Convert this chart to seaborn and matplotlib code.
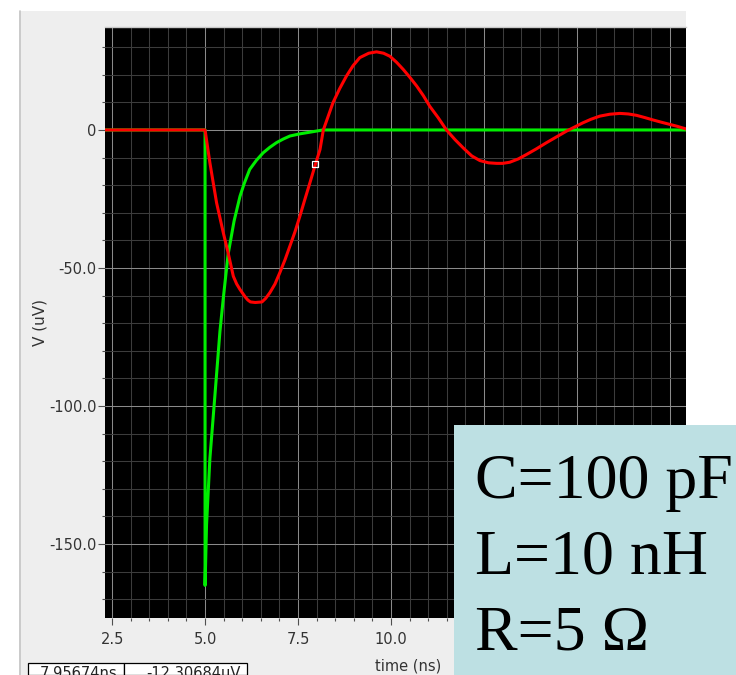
import matplotlib
matplotlib.use("Agg")
import matplotlib.pyplot as plt
from matplotlib.patches import Rectangle
from matplotlib.lines import Line2D
import numpy as np
import pandas as pd
import seaborn as sns

# ---- data ----
t_green = [2.3, 5.0, 5.0, 5.04, 5.13, 5.26, 5.40, 5.49, 5.62, 5.78, 5.94, 6.05,
           6.20, 6.38, 6.56, 6.74, 6.92, 7.10, 7.28, 7.55, 7.82, 8.17, 17.95]
v_green = [0, 0, -165, -143, -119, -97, -73, -61, -45, -33, -24, -19.5,
           -14.3, -11.0, -8.3, -6.3, -4.6, -3.3, -2.2, -1.4, -0.8, 0, 0]

t_red = [2.3, 5.0, 5.13, 5.31, 5.49, 5.62, 5.76, 5.85, 5.94, 6.08, 6.15, 6.22, 6.35,
         6.53, 6.63, 6.74, 6.88, 7.01, 7.15, 7.28, 7.42, 7.55, 7.68, 7.82, 7.95,
         8.09, 8.18, 8.44, 8.62, 8.80, 8.98, 9.16, 9.40, 9.61, 9.80, 9.97, 10.15,
         10.33, 10.51, 10.69, 10.87, 11.04, 11.27, 11.49, 11.72, 11.94, 12.17,
         12.39, 12.62, 12.84, 13.00, 13.19, 13.42, 13.64, 13.90, 14.18, 14.45,
         14.72, 14.94, 15.16, 15.38, 15.61, 15.88, 16.15, 16.38, 16.60, 16.82,
         17.05, 17.27, 17.50, 17.70, 17.95]
v_red = [0, 0, -11.9, -26.4, -37.2, -44.5, -53.0, -55.8, -57.8, -60.5, -61.6, -62.3, -62.5,
         -62.3, -61.0, -59.0, -55.8, -51.7, -47.0, -42.1, -36.8, -31.2, -25.3, -19.1, -13.2,
         -7.1, 0, 9.9, 15.0, 19.5, 23.3, 26.2, 27.8, 28.3, 27.8, 26.7, 24.5,
         21.9, 19.0, 15.9, 12.4, 8.6, 4.4, 0, -3.5, -6.5, -9.4,
         -11.1, -11.9, -12.1, -12.1, -11.7, -10.5, -8.9, -6.9, -4.6, -2.5,
         -0.4, 1.1, 2.6, 3.9, 5.0, 5.7, 6.0, 5.8, 5.3, 4.5,
         3.6, 2.8, 2.0, 1.3, 0.3]

cursor_t = [7.95674]
cursor_v = [-12.30684]

x_major = [2.5, 5.0, 7.5, 10.0, 12.5, 15.0, 17.5]
x_labels = ["2.5", "5.0", "7.5", "10.0", "", "", ""]   # later labels hidden behind the box
y_major = [-150, -100, -50, 0]
y_labels = ["-150.0", "-100.0", "-50.0", "0"]

param_lines = ["C=100 pF", "L=10 nH", "R=5 \u03a9"]
readouts = ["7.95674ns", "-12.30684uV"]

# ---- figure ----
sns.set_style("dark")
plt.rcParams["font.family"] = ["DejaVu Sans"]

W, H = 736, 675
fig = plt.figure(figsize=(W / 100, H / 100), dpi=100)
fig.patch.set_facecolor("white")

def fx(px):
    return px / W

def fy(py):
    return 1 - py / H

# grey application panel
fig.add_artist(Rectangle((fx(19), 0), fx(686) - fx(19), fy(11), transform=fig.transFigure,
                         facecolor="#eeeeee", edgecolor="none", zorder=-10))
fig.add_artist(Line2D([fx(19.5), fx(19.5)], [0, fy(11)], transform=fig.transFigure,
                      color="#c4c4c4", lw=1.2, zorder=-9))

ax = fig.add_axes([fx(105), fy(618), fx(686) - fx(105), fy(27) - fy(618)])
ax.set_facecolor("black")

df_g = pd.DataFrame({"t": t_green, "v": v_green})
df_r = pd.DataFrame({"t": t_red, "v": v_red})
sns.lineplot(data=df_g, x="t", y="v", ax=ax, color="#00ee00", lw=2.2,
             estimator=None, sort=False, zorder=3)
sns.lineplot(data=df_r, x="t", y="v", ax=ax, color="#ff0000", lw=2.2,
             estimator=None, sort=False, zorder=4)
sns.scatterplot(x=cursor_t, y=cursor_v, ax=ax, marker="s", s=22,
                facecolor="none", edgecolor="white", linewidth=0.9, zorder=5)

ax.set_xlim(2.31, 17.93)
ax.set_ylim(-176.8, 37.3)

ax.set_xticks(x_major)
ax.set_xticklabels(x_labels)
ax.set_xticks(np.arange(2.5, 18.0, 0.5), minor=True)
ax.set_yticks(y_major)
ax.set_yticklabels(y_labels)
ax.set_yticks(np.arange(-170, 40, 10), minor=True)

ax.grid(which="major", color="#8a8a8a", lw=0.75)
ax.grid(which="minor", color="#3c3c3c", lw=0.75)
ax.set_axisbelow(True)

ax.tick_params(which="major", direction="out", length=5, width=0.8, color="#505050",
               labelsize=10.5, labelcolor="#333333", bottom=True, left=True)
ax.tick_params(which="minor", direction="out", length=2.5, width=0.8, color="#505050",
               bottom=True, left=True)
ax.tick_params(axis="x", which="major", pad=5)
ax.tick_params(axis="y", which="major", pad=1)

for s in ["left", "bottom", "right"]:
    ax.spines[s].set_visible(False)
ax.spines["top"].set_color("#c8c8c8")
ax.spines["top"].set_linewidth(1.0)

ax.set_xlabel("")
ax.set_ylabel("")
fig.text(fx(40), fy(322), "V (uV)", rotation=90, ha="center", va="center",
         fontsize=11, color="#333333")
fig.text(fx(408), fy(666), "time (ns)", ha="center", va="center",
         fontsize=10.5, color="#333333")

# cursor read-out boxes (cut off at the bottom edge, as in the reference)
fig.add_artist(Rectangle((fx(27.5), 0), fx(123.5) - fx(27.5), fy(663), transform=fig.transFigure,
                         facecolor="white", edgecolor="black", lw=0.9, zorder=2))
fig.add_artist(Rectangle((fx(123.5), 0), fx(246.5) - fx(123.5), fy(663), transform=fig.transFigure,
                         facecolor="white", edgecolor="black", lw=0.9, zorder=2))
fig.text(fx(40), fy(673), readouts[0], ha="left", va="center", fontsize=10.5,
         color="#222222", zorder=3)
fig.text(fx(241), fy(673), readouts[1], ha="right", va="center", fontsize=10.5,
         color="#222222", zorder=3)

# parameter box
fig.add_artist(Rectangle((fx(454), 0), 1 - fx(454), fy(425), transform=fig.transFigure,
                         facecolor="#bde0e3", edgecolor="none", zorder=10))
for i, line in enumerate(param_lines):
    fig.text(fx(475), fy(498 + 76 * i), line, ha="left", va="baseline",
             fontsize=46, family=["Liberation Serif", "DejaVu Serif"],
             color="black", zorder=11)

fig.savefig("out.png", dpi=100)
